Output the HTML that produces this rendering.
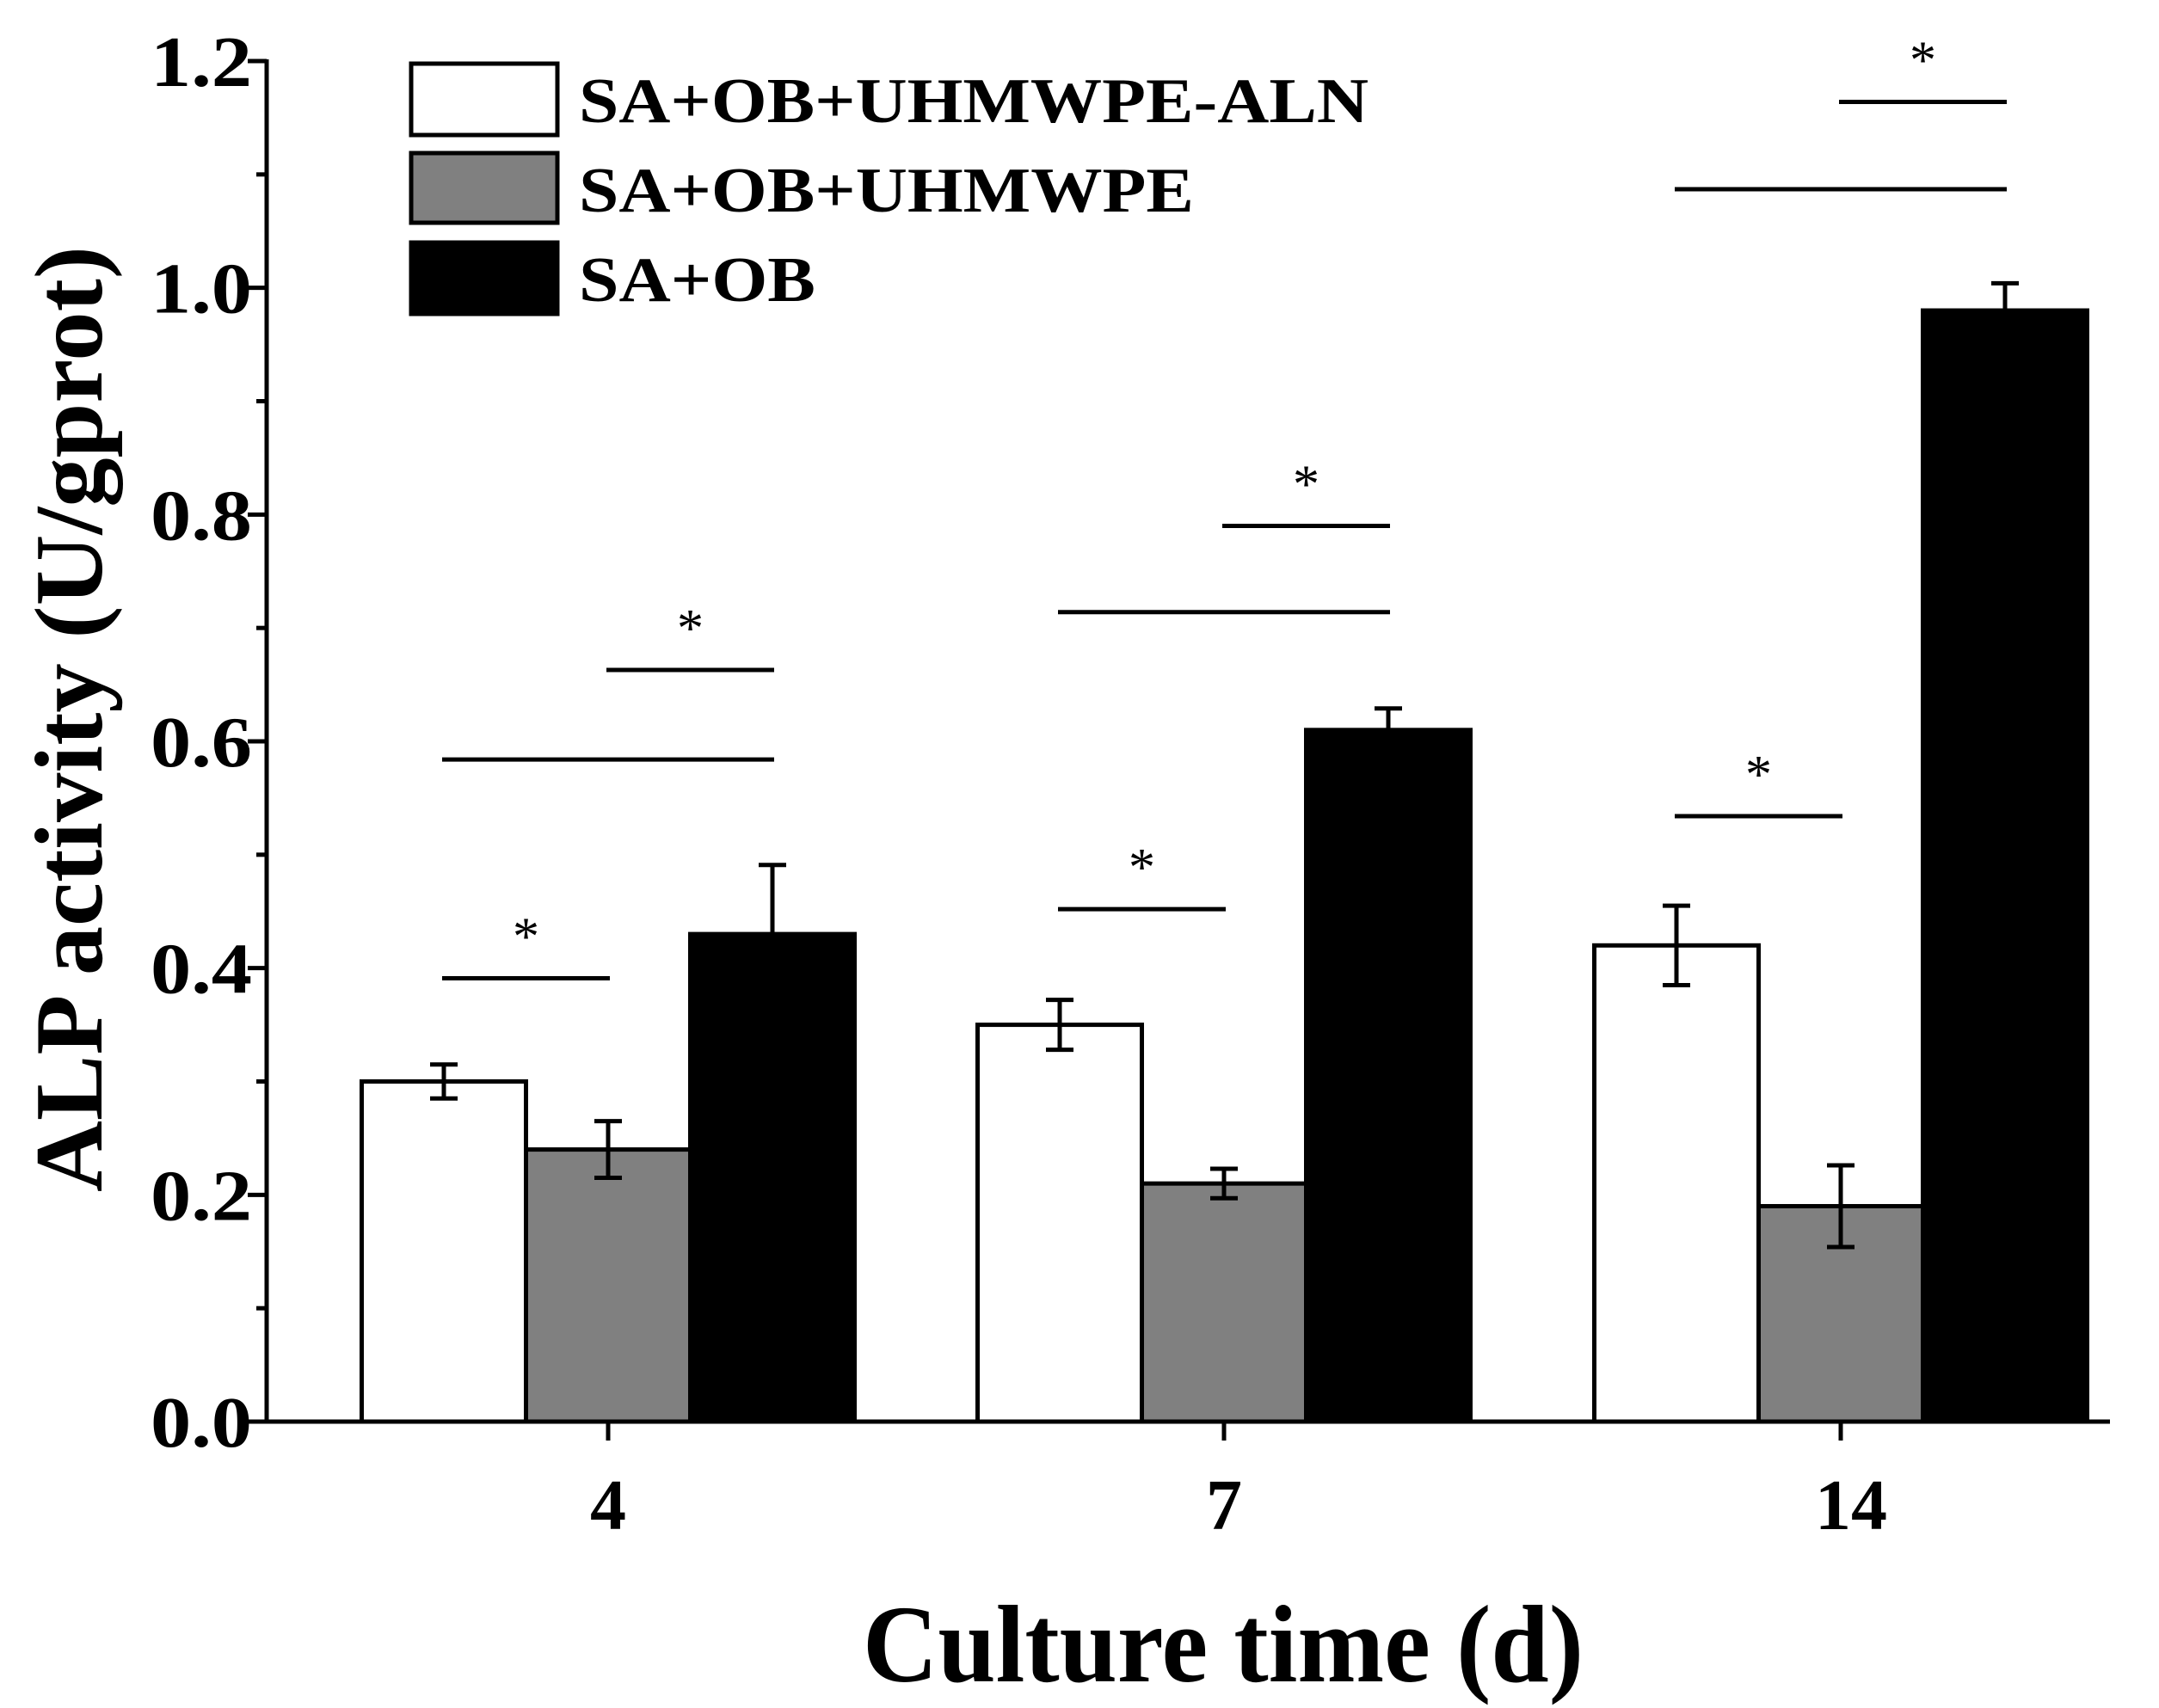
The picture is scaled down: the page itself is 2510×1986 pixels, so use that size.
<!DOCTYPE html>
<html><head><meta charset="utf-8"><style>
html,body{margin:0;padding:0;background:#fff}
svg{display:block}
text{font-family:"Liberation Serif",serif;font-weight:bold;fill:#000}
</style></head><body>
<svg id="chart" width="2510" height="1986" viewBox="0 0 2510 1986" xmlns="http://www.w3.org/2000/svg">
<g id="bars"></g>
<g id="sig"></g>
<g id="axes"></g>
<g>
  <rect x="478" y="74" width="170" height="83" fill="#fff" stroke="#000" stroke-width="5"/>
  <text x="673" y="142" font-size="74" textLength="918" lengthAdjust="spacingAndGlyphs">SA+OB+UHMWPE-ALN</text>
  <rect x="478" y="178" width="170" height="81" fill="#808080" stroke="#000" stroke-width="5"/>
  <text x="673" y="246" font-size="74" textLength="715" lengthAdjust="spacingAndGlyphs">SA+OB+UHMWPE</text>
  <rect x="478" y="282" width="170" height="83" fill="#000" stroke="#000" stroke-width="5"/>
  <text x="673" y="350" font-size="74" textLength="275" lengthAdjust="spacingAndGlyphs">SA+OB</text>
</g>
<text x="1422" y="1955" font-size="128" text-anchor="middle" textLength="838" lengthAdjust="spacingAndGlyphs">Culture time (d)</text>
<text transform="translate(118,836) rotate(-90)" font-size="112" text-anchor="middle" textLength="1100" lengthAdjust="spacingAndGlyphs">ALP activity (U/gprot)</text>
</svg>
<script>
const categories = ["4", "7", "14"];
const seriesNames = ["SA+OB+UHMWPE-ALN", "SA+OB+UHMWPE", "SA+OB"];
const alnValues = [0.30, 0.35, 0.42];
const uhmwpeValues = [0.24, 0.21, 0.19];
const saobValues = [0.43, 0.61, 0.98];
const alnErrors = [0.015, 0.022, 0.035];
const uhmwpeErrors = [0.025, 0.013, 0.036];
const saobErrors = [0.061, 0.019, 0.024];
const yTicks = ["0.0", "0.2", "0.4", "0.6", "0.8", "1.0", "1.2"];
const sigGroups = [0,0,0,1,1,1,2,2,2];
const sigFrom = [0,0,1,0,0,1,0,0,1];
const sigTo = [1,2,2,1,2,2,1,2,2];
const sigLevel = [0.391,0.584,0.663,0.452,0.714,0.790,0.534,1.087,1.164];
const sigStar = [true,false,true,true,false,true,true,false,true];

const NS = "http://www.w3.org/2000/svg";
const X0 = 310, X1 = 2453, Y0 = 1653, Y1 = 71, YMAX = 1.2;
const groupCenters = [707, 1423, 2140];
const BW = 191;
const y = v => Y0 - (v / YMAX) * (Y0 - Y1);
const barX = (g, s) => groupCenters[g] + (s - 1.5) * BW;
function mk(tag, attrs, parent) {
  const e = document.createElementNS(NS, tag);
  for (const k in attrs) e.setAttribute(k, attrs[k]);
  parent.appendChild(e);
  return e;
}
const barsG = document.getElementById('bars');
const fills = ["#fff", "#808080", "#000"];
const vals = [alnValues, uhmwpeValues, saobValues];
const errs = [alnErrors, uhmwpeErrors, saobErrors];
const keys = ["aln", "uhmwpe", "saob"];
for (let g = 0; g < categories.length; g++) {
  for (let s = 0; s < 3; s++) {
    const v = vals[s][g], e = errs[s][g];
    const r = mk('rect', {x: barX(g, s), y: y(v), width: BW, height: Y0 - y(v), fill: fills[s], stroke: '#000', 'stroke-width': 5}, barsG);
    
    
    const cx = barX(g, s) + BW / 2;
    const eb = mk('path', {d: `M${cx},${y(v+e)}V${y(v-e)}M${cx-16},${y(v+e)}H${cx+16}M${cx-16},${y(v-e)}H${cx+16}`, stroke: '#000', 'stroke-width': 5, fill: 'none'}, barsG);
    
    
  }
}
const sigG = document.getElementById('sig');
for (let i = 0; i < sigLevel.length; i++) {
  const g = sigGroups[i];
  const xa = barX(g, sigFrom[i]) + BW / 2 - 2, xb = barX(g, sigTo[i]) + BW / 2 + 2;
  const ln = mk('line', {x1: xa, x2: xb, y1: y(sigLevel[i]), y2: y(sigLevel[i]), stroke: '#000', 'stroke-width': 5}, sigG);
  
  
  if (sigStar[i]) {
    const t = mk('text', {x: (xa + xb) / 2, y: y(sigLevel[i]) - 28, 'font-size': 62, 'text-anchor': 'middle', style: 'font-weight:normal'}, sigG);
    t.textContent = '*';
    
    
  }
}
const ax = document.getElementById('axes');
const yl = mk('line', {x1: X0, x2: X0, y1: Y1 - 2, y2: Y0 + 2, stroke: '#000', 'stroke-width': 5}, ax);


const xl = mk('line', {x1: X0 - 2, x2: X1, y1: Y0, y2: Y0, stroke: '#000', 'stroke-width': 5}, ax);


for (let i = 0; i < yTicks.length; i++) {
  const v = parseFloat(yTicks[i]);
  const tk = mk('line', {x1: X0 - 22, x2: X0, y1: y(v), y2: y(v), stroke: '#000', 'stroke-width': 5}, ax);
  
  
  if (i < yTicks.length - 1) {
    const mt = mk('line', {x1: X0 - 12, x2: X0, y1: y(v + 0.1), y2: y(v + 0.1), stroke: '#000', 'stroke-width': 5}, ax);
    
    
  }
  const t = mk('text', {x: 293, y: y(v) + 29, 'font-size': 84, 'text-anchor': 'end', textLength: 118, lengthAdjust: 'spacingAndGlyphs'}, ax);
  t.textContent = yTicks[i];
  
  
}
for (let g = 0; g < categories.length; g++) {
  const tk = mk('line', {x1: groupCenters[g], x2: groupCenters[g], y1: Y0, y2: Y0 + 22, stroke: '#000', 'stroke-width': 5}, ax);
  
  
  const t = mk('text', {x: groupCenters[g] + (categories[g].length > 1 ? 12 : 0), y: 1778, 'font-size': 84, 'text-anchor': 'middle'}, ax);
  t.textContent = categories[g];
  
  
}
</script>
</body></html>
